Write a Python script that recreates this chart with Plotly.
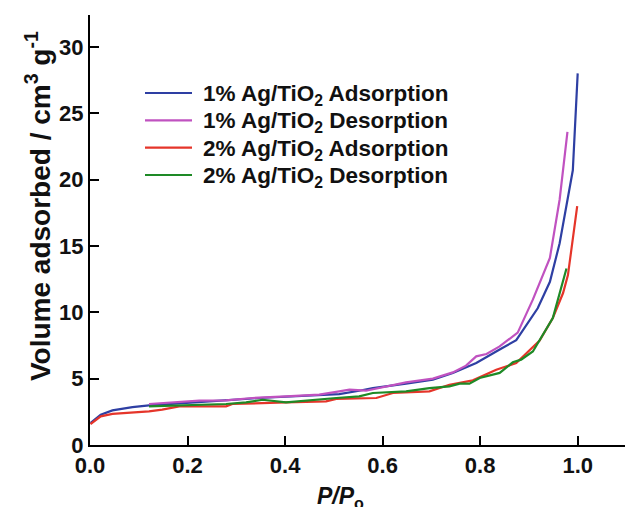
import plotly.graph_objects as go

# Relative pressure (P/Po) and adsorbed volume (cm3/g) for each isotherm branch
ads1_x = [0.001, 0.022, 0.046, 0.087, 0.121, 0.20, 0.26, 0.347, 0.42, 0.511, 0.552, 0.580, 0.648,
          0.703, 0.744, 0.792, 0.840, 0.874, 0.918, 0.943, 0.963, 0.990, 1.0]
ads1_y = [1.66, 2.28, 2.61, 2.86, 2.98, 3.15, 3.32, 3.54, 3.68, 3.84, 4.09, 4.29, 4.62,
          4.92, 5.43, 6.18, 7.20, 7.90, 10.3, 12.3, 15.2, 20.7, 28.0]

des1_x = [0.121, 0.162, 0.224, 0.279, 0.333, 0.402, 0.470, 0.511, 0.532, 0.566, 0.648, 0.703,
          0.744, 0.771, 0.792, 0.813, 0.840, 0.877, 0.908, 0.943, 0.963, 0.979]
des1_y = [3.09, 3.21, 3.34, 3.36, 3.54, 3.66, 3.79, 4.04, 4.17, 4.09, 4.72, 5.00,
          5.47, 5.98, 6.68, 6.86, 7.43, 8.47, 10.95, 14.1, 18.5, 23.6]

ads2_x = [0.001, 0.022, 0.046, 0.121, 0.148, 0.183, 0.279, 0.292, 0.402, 0.484, 0.505, 0.552,
          0.587, 0.621, 0.696, 0.737, 0.785, 0.833, 0.874, 0.922, 0.949, 0.970, 0.980, 0.999]
ads2_y = [1.58, 2.16, 2.34, 2.53, 2.66, 2.91, 2.91, 3.09, 3.21, 3.29, 3.47, 3.49,
          3.54, 3.92, 4.04, 4.54, 4.87, 5.67, 6.18, 7.87, 9.57, 11.45, 12.8, 18.0]

des2_x = [0.121, 0.210, 0.279, 0.320, 0.354, 0.402, 0.456, 0.505, 0.552, 0.580, 0.648, 0.696,
          0.737, 0.758, 0.778, 0.799, 0.840, 0.867, 0.884, 0.908, 0.949, 0.977]
des2_y = [2.91, 3.04, 3.09, 3.21, 3.41, 3.21, 3.41, 3.54, 3.66, 3.92, 4.04, 4.29,
          4.42, 4.62, 4.62, 5.05, 5.43, 6.23, 6.43, 7.05, 9.57, 13.3]

series_names = [
    "1% Ag/TiO<sub>2</sub> Adsorption",
    "1% Ag/TiO<sub>2</sub> Desorption",
    "2% Ag/TiO<sub>2</sub> Adsorption",
    "2% Ag/TiO<sub>2</sub> Desorption",
]
series_colors = ["#2E3FA3", "#C052C0", "#E5352A", "#1E8A26"]
series_data = [(ads1_x, ads1_y), (des1_x, des1_y), (ads2_x, ads2_y), (des2_x, des2_y)]

x_ticks = [0.0, 0.2, 0.4, 0.6, 0.8, 1.0]
y_ticks = [0, 5, 10, 15, 20, 25, 30]

FONT = "Liberation Sans, Arial, sans-serif"
W, H = 625, 507
M_L, M_R, M_T, M_B = 90, 0, 15, 62
PW, PH = W - M_L - M_R, H - M_T - M_B


def px_to_paper(px, py):
    return (px - M_L) / PW, 1 - (py - M_T) / PH


fig = go.Figure()
for name, color, (xs, ys) in zip(series_names, series_colors, series_data):
    fig.add_trace(go.Scatter(
        x=xs, y=ys, mode="lines", name=name, showlegend=False,
        line=dict(color=color, width=2.2),
    ))

# Key drawn inside the plot: a short coloured line plus label per series
shapes, annotations = [], []
key_rows = [93, 120.3, 147.7, 175]
for name, color, row in zip(series_names, series_colors, key_rows):
    x0, y0 = px_to_paper(145, row)
    x1, _ = px_to_paper(192, row)
    shapes.append(dict(type="line", xref="paper", yref="paper", x0=x0, x1=x1, y0=y0, y1=y0,
                       line=dict(color=color, width=2.2)))
    tx, ty = px_to_paper(201, row + 2)
    annotations.append(dict(text=name, xref="paper", yref="paper", x=tx, y=ty,
                            xanchor="left", yanchor="middle", showarrow=False,
                            font=dict(family=FONT, size=22.5, color="#111", weight="bold")))

# Axis titles
tx, ty = px_to_paper(340, 497)
annotations.append(dict(text="<i>P/P</i><sub>o</sub>", xref="paper", yref="paper", x=tx, y=ty,
                        showarrow=False, xanchor="center", yanchor="middle",
                        font=dict(family=FONT, size=23, color="#111", weight="bold")))
tx, ty = px_to_paper(38, 206)
annotations.append(dict(text="Volume adsorbed / cm<sup>3</sup> g<sup>-1</sup>", textangle=-90,
                        xref="paper", yref="paper", x=tx, y=ty,
                        showarrow=False, xanchor="center", yanchor="middle",
                        font=dict(family=FONT, size=28, color="#111", weight="bold")))

axis_common = dict(
    showline=True, linecolor="black", linewidth=2,
    ticks="inside", ticklen=9, tickwidth=2, tickcolor="black",
    showgrid=False, zeroline=False,
    tickfont=dict(family=FONT, size=22, color="#111", weight="bold"),
)

fig.update_layout(
    width=W, height=H,
    margin=dict(l=M_L, r=M_R, t=M_T, b=M_B),
    plot_bgcolor="white", paper_bgcolor="white",
    xaxis=dict(range=[0, 1.097], tickvals=x_ticks, tickformat=".1f", **axis_common),
    yaxis=dict(range=[0, 32.4], tickvals=y_ticks, **axis_common),
    shapes=shapes,
    annotations=annotations,
)

fig.write_html("out.html")
